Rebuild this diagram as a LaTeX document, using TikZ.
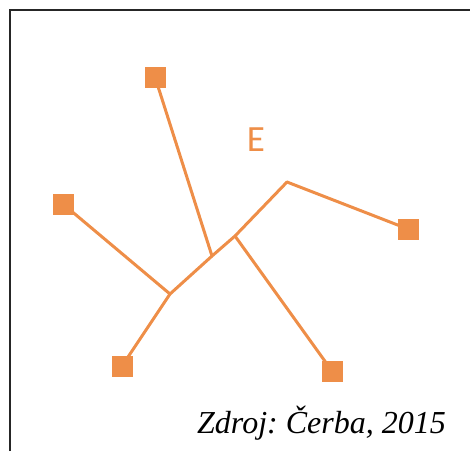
\documentclass[tikz,border=0pt]{standalone}
\usepackage{fontspec}
\setmainfont{Liberation Serif}
\newfontfamily\labelfont{Carlito}
\definecolor{netorange}{RGB}{238,142,72}
\frenchspacing
\begin{document}
\begin{tikzpicture}[x=1pt,y=-1pt,
  endpoint/.style={fill=netorange,draw=none,minimum size=21pt,inner sep=0pt,outer sep=0pt,rectangle},
  branch/.style={draw=netorange,line width=3pt,line cap=round,line join=round}]
\useasboundingbox (0,0) rectangle (470,451);
% frame
\draw[line width=1.6pt,black!85] (10,451) -- (10,10) -- (470,10);
% end points
\node[endpoint] (a) at (155,77) {};
\node[endpoint] (b) at (63,204) {};
\node[endpoint] (c) at (122,366) {};
\node[endpoint] (d) at (332,371) {};
\node[endpoint] (e) at (408,229) {};
% inner vertices
\coordinate (j1) at (170,294);
\coordinate (j2) at (212,256);
\coordinate (j3) at (235,236);
\coordinate (j4) at (287,182);
% branches
\draw[branch] (b.center) -- (j1);
\draw[branch] (c.center) -- (j1);
\draw[branch] (j1) -- (j2) -- (j3) -- (j4);
\draw[branch] (a.center) -- (j2);
\draw[branch] (j3) -- (d.center);
\draw[branch] (j4) -- (e.center);
% squares drawn over the line ends
\node[endpoint] at (a) {};
\node[endpoint] at (b) {};
\node[endpoint] at (c) {};
\node[endpoint] at (d) {};
\node[endpoint] at (e) {};
\node[text=netorange,font=\labelfont\fontsize{37}{37}\selectfont,inner sep=0pt] (lab) at (256,140) {E};
\node[font=\itshape\fontsize{32}{32}\selectfont,anchor=base west,inner sep=0pt] (src) at (197,433) {Zdroj: Čerba, 2015};
\end{tikzpicture}
\end{document}
